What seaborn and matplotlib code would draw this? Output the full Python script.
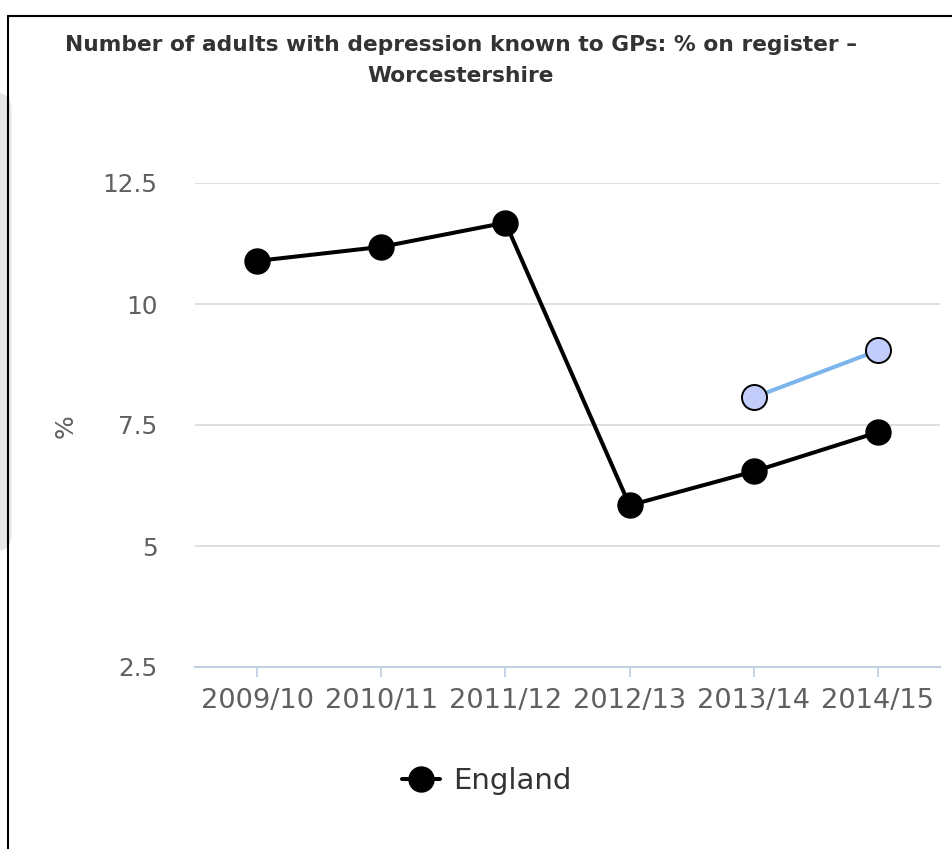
import numpy as np
import pandas as pd
import seaborn as sns
import matplotlib.pyplot as plt
from matplotlib.lines import Line2D
from matplotlib.patches import FancyBboxPatch

# Data
years = ['2009/10', '2010/11', '2011/12', '2012/13', '2013/14', '2014/15']
england = [10.89, 11.18, 11.68, 5.84, 6.54, 7.35]
worcs_years = ['2013/14', '2014/15']
worcs = [8.07, 9.04]
y_ticks = [2.5, 5, 7.5, 10, 12.5]
y_tick_labels = ['2.5', '5', '7.5', '10', '12.5']

sns.set_style('white')
plt.rcParams['font.family'] = ['DejaVu Sans']

fig = plt.figure(figsize=(9.52, 8.49), dpi=100)

# grey panel peeking out at the left edge, and the frame lines
fig.patches.append(FancyBboxPatch((-0.05, 1 - 552 / 849), 0.062, 460 / 849,
                                  boxstyle='round,pad=0,rounding_size=0.02',
                                  transform=fig.transFigure, facecolor='#e6e6e6',
                                  edgecolor='none', zorder=0))
fig.lines.append(Line2D([8 / 952, 8 / 952], [0, 1 - 16 / 849], transform=fig.transFigure,
                        color='black', lw=1.5))
fig.lines.append(Line2D([8 / 952, 1], [1 - 16 / 849, 1 - 16 / 849], transform=fig.transFigure,
                        color='black', lw=1.5))

ax = fig.add_axes([195 / 952, 1 - 667 / 849, 745 / 952, 484 / 849])
ax.set_facecolor('none')

df_eng = pd.DataFrame({'year': years, 'value': england})
df_wor = pd.DataFrame({'year': worcs_years, 'value': worcs})

sns.lineplot(data=df_eng, x='year', y='value', ax=ax, color='black', lw=2.9,
             marker='o', markersize=18, markeredgecolor='black', markeredgewidth=1,
             zorder=3, clip_on=False)
sns.lineplot(data=df_wor, x='year', y='value', ax=ax, color='#7cb5ec', lw=2.9,
             marker='o', markersize=18, markerfacecolor='#c3cdfc',
             markeredgecolor='black', markeredgewidth=1.4, zorder=3, clip_on=False)

ax.set_xlim(-0.5, 5.5)
ax.set_ylim(2.5, 12.5)
ax.set_yticks(y_ticks)
ax.set_yticklabels(y_tick_labels)
ax.yaxis.grid(True, color='#dcdcdc', lw=1.3)
ax.set_axisbelow(True)
for s in ['top', 'right', 'left']:
    ax.spines[s].set_visible(False)
ax.spines['bottom'].set_color('#c0d0e0')
ax.spines['bottom'].set_linewidth(1.5)
ax.tick_params(axis='y', length=0, pad=27, labelsize=17.8, labelcolor='#606060')
ax.tick_params(axis='x', length=7, width=1.3, color='#c0d0e0', pad=8,
               labelsize=19.6, labelcolor='#606060', bottom=True)
ax.set_xlabel('')
ax.set_ylabel('')
fig.text(66 / 952, 1 - 426 / 849, '%', rotation=90, ha='center', va='center',
         fontsize=18, color='#606060')

fig.text(461 / 952, 1 - 45 / 849, 'Number of adults with depression known to GPs: % on register \u2013',
         ha='center', va='center', fontsize=15.7, fontweight='bold', color='#333333')
fig.text(461 / 952, 1 - 76 / 849, 'Worcestershire',
         ha='center', va='center', fontsize=15.7, fontweight='bold', color='#333333')

handle = Line2D([], [], color='black', lw=2.9, marker='o', markersize=18,
                markeredgecolor='black')
fig.legend([handle], ['England'], loc='center', bbox_to_anchor=(487 / 952, 1 - 781 / 849),
           frameon=False, fontsize=21, labelcolor='#333333', handlelength=1.3,
           handletextpad=0.45)

fig.savefig('out.png', dpi=100)
